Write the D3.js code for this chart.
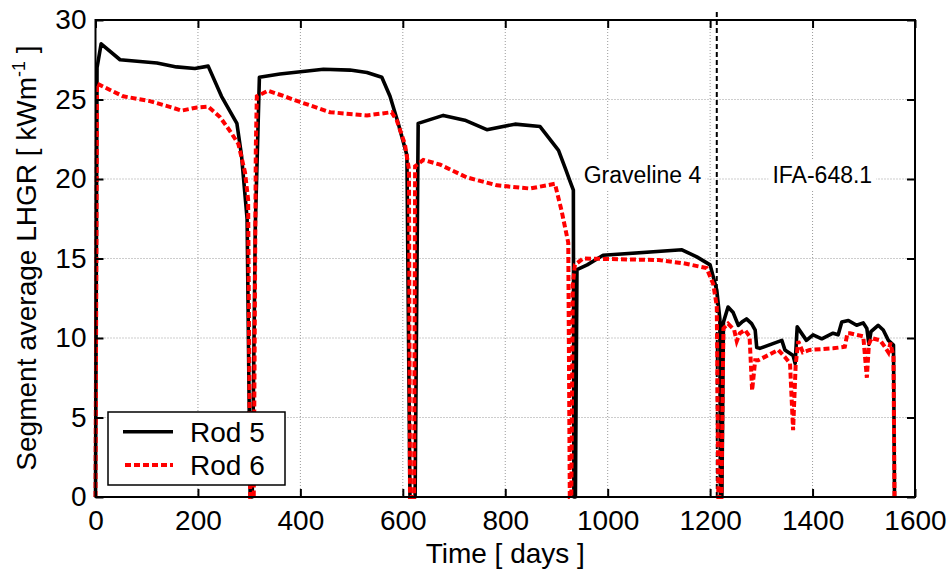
<!DOCTYPE html>
<html>
<head>
<meta charset="utf-8">
<script src="https://cdn.jsdelivr.net/npm/d3@7"></script>
<style>
  body { margin: 0; background: #fff; }
  svg { display: block; font-family: "Liberation Sans", Arial, sans-serif; }
</style>
</head>
<body>
<svg id="chart" width="950" height="573"></svg>
<script>
// ---------- data ----------
const xTicks = [0, 200, 400, 600, 800, 1000, 1200, 1400, 1600];
const yTicks = [0, 5, 10, 15, 20, 25, 30];

const rod5Days = [0,3,11,48,120,158,194,220,246,276,285,296,302,306,312,320,360,445,497,530,559,575,591,608,614,624,630,679,721,764,819,868,904,918,926,933,934,937,940,960,991,1145,1174,1200,1213,1219,1220,1223,1226,1235,1245,1255,1262,1271,1281,1288,1291,1297,1340,1346,1362,1366,1370,1388,1401,1418,1440,1450,1457,1470,1486,1499,1506,1510,1514,1528,1538,1548,1558,1560];
const rod5Values = [0,27.0,28.5,27.5,27.3,27.05,26.95,27.1,25.2,23.5,21.5,17.5,0,0,17,26.4,26.6,26.9,26.85,26.7,26.4,25.2,23.5,21.5,0,0,23.5,24.0,23.7,23.1,23.45,23.3,21.8,20.6,19.9,19.3,0,0,14.3,14.6,15.2,15.55,15.1,14.6,13.0,11.2,0,0,11.0,11.95,11.6,10.8,11.0,11.2,10.9,10.5,9.4,9.35,9.85,9.25,8.9,8.4,10.7,9.85,10.2,9.95,10.3,10.2,11.0,11.1,10.8,10.95,10.6,9.6,10.4,10.8,10.5,9.85,9.55,0];

const rod6Days = [0,3,54,106,149,168,198,220,243,263,279,292,298,302,309,313,315,337,360,399,458,530,578,588,604,612,614,622,624,640,673,725,784,848,897,910,923,926,929,932,936,952,1100,1148,1193,1206,1213,1216,1222,1226,1235,1247,1252,1258,1268,1277,1282,1288,1294,1333,1346,1356,1362,1367,1372,1381,1394,1440,1463,1468,1473,1499,1506,1510,1515,1532,1541,1548,1552,1558,1560];
const rod6Values = [0,26.0,25.2,24.9,24.5,24.3,24.5,24.55,23.9,23.0,22.2,20.4,18.7,0,0,22,25.2,25.55,25.3,24.85,24.2,24.0,24.2,23.7,22.2,20.6,0,0,20.8,21.2,20.9,20.1,19.6,19.4,19.7,18.0,16.0,0,0,13.4,14.6,15.0,14.9,14.7,14.4,13.4,12.0,0,0,10.6,10.9,10.5,9.8,10.3,10.5,10.1,6.7,8.6,8.6,9.25,8.8,8.4,4.2,8.3,9.8,9.1,9.25,9.35,9.45,10.3,10.3,10.1,7.5,9.6,10.0,9.85,9.45,9.1,9.7,8.8,0];

const seriesNames = ["Rod 5", "Rod 6"];
const boundaryDay = 1213;
const campaignLabels = ["Graveline 4", "IFA-648.1"];
const campaignLabelDays = [1068, 1419];

// ---------- layout ----------
const svg = d3.select("#chart");
const L = 95.5, R = 915, T = 20, B = 497;
const FS = 28;

const x = d3.scaleLinear().domain([0, 1600]).range([L, R]);
const y = d3.scaleLinear().domain([0, 30]).range([B, T]);

// grid
const grid = svg.append("g").attr("stroke", "#9a9a9a").attr("stroke-width", 1).attr("stroke-dasharray", "1,2");
xTicks.slice(1, -1).forEach(t => {
  grid.append("line").attr("x1", x(t)).attr("x2", x(t)).attr("y1", T).attr("y2", B);
});
yTicks.slice(1, -1).forEach(t => {
  grid.append("line").attr("x1", L).attr("x2", R).attr("y1", y(t)).attr("y2", y(t));
});

// campaign labels with white background
campaignLabels.forEach((lab, i) => {
  const g = svg.append("g");
  const t = g.append("text").attr("x", x(campaignLabelDays[i])).attr("y", 183)
    .attr("text-anchor", "middle").attr("font-size", 23).attr("fill", "#000").text(lab);
  const bb = t.node().getBBox();
  g.insert("rect", "text").attr("x", bb.x - 4).attr("y", bb.y - 2)
    .attr("width", bb.width + 8).attr("height", bb.height + 4).attr("fill", "#fff");
});

// boundary line
svg.append("line").attr("x1", x(boundaryDay)).attr("x2", x(boundaryDay))
  .attr("y1", 12).attr("y2", B).attr("stroke", "#000").attr("stroke-width", 2)
  .attr("stroke-dasharray", "5,3");

// lines
const line = d3.line().x(d => x(d[0])).y(d => y(d[1]));
const rod5 = rod5Days.map((d, i) => [d, rod5Values[i]]);
const rod6 = rod6Days.map((d, i) => [d, rod6Values[i]]);

svg.append("path").datum(rod5).attr("d", line).attr("fill", "none")
  .attr("stroke", "#000").attr("stroke-width", 3.6).attr("stroke-linejoin", "round");
svg.append("path").datum(rod6).attr("d", line).attr("fill", "none")
  .attr("stroke", "#ff0000").attr("stroke-width", 4).attr("stroke-dasharray", "6,3");

// axes
const ax = svg.append("g");
ax.append("g").attr("transform", `translate(0,${B})`)
  .call(d3.axisBottom(x).tickValues(xTicks).tickFormat(d3.format("d")).tickSizeInner(-8).tickSizeOuter(0).tickPadding(13));
ax.append("g").attr("transform", `translate(${L},0)`)
  .call(d3.axisLeft(y).tickValues(yTicks).tickFormat(d3.format("d")).tickSizeInner(-8).tickSizeOuter(0).tickPadding(9));
ax.append("g").attr("transform", `translate(0,${T})`)
  .call(d3.axisTop(x).tickValues(xTicks).tickSizeInner(-8).tickSizeOuter(0).tickFormat(""));
ax.append("g").attr("transform", `translate(${R},0)`)
  .call(d3.axisRight(y).tickValues(yTicks).tickSizeInner(-8).tickSizeOuter(0).tickFormat(""));
ax.selectAll(".domain").remove();
ax.selectAll("g").attr("font-size", FS).attr("font-family", "Liberation Sans, Arial, sans-serif");
ax.selectAll(".tick line").attr("stroke", "#000").attr("stroke-width", 2);
ax.selectAll(".tick text").attr("fill", "#000");

// frame
svg.append("rect").attr("x", L).attr("y", T).attr("width", R - L).attr("height", B - T)
  .attr("fill", "none").attr("stroke", "#000").attr("stroke-width", 2);

// axis titles
svg.append("text").attr("x", (L + R) / 2).attr("y", 563).attr("text-anchor", "middle")
  .attr("font-size", FS).text("Time [ days ]");
const yl = svg.append("text").attr("transform", "translate(36,258) rotate(-90)")
  .attr("text-anchor", "middle").attr("font-size", FS);
yl.append("tspan").text("Segment average LHGR [ kWm");
yl.append("tspan").attr("font-size", 18).attr("dy", -11).text("-1");
yl.append("tspan").attr("dy", 11).text(" ]");

// legend
const lg = svg.append("g");
lg.append("rect").attr("x", 108).attr("y", 412).attr("width", 177).attr("height", 73)
  .attr("fill", "#fff").attr("stroke", "#000").attr("stroke-width", 1.5);
const legY = [431.7, 465];
lg.append("line").attr("x1", 123).attr("x2", 173).attr("y1", legY[0]).attr("y2", legY[0])
  .attr("stroke", "#000").attr("stroke-width", 3.6);
lg.append("line").attr("x1", 125).attr("x2", 173).attr("y1", legY[1]).attr("y2", legY[1])
  .attr("stroke", "#ff0000").attr("stroke-width", 4).attr("stroke-dasharray", "6,3");
seriesNames.forEach((n, i) => {
  lg.append("text").attr("x", 190).attr("y", legY[i] + 10).attr("font-size", FS).text(n);
});
</script>
</body>
</html>
